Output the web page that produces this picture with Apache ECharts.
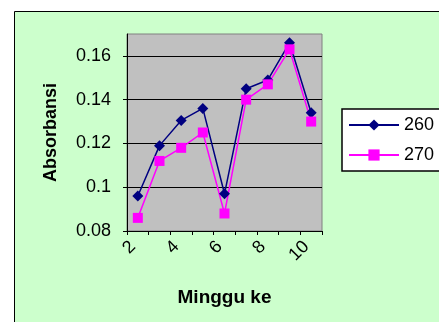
<!DOCTYPE html>
<html>
<head>
<meta charset="utf-8">
<script src="https://cdn.jsdelivr.net/npm/echarts@6/dist/echarts.min.js"></script>
<style>
html,body{margin:0;padding:0;background:#ffffff;}
#chart{width:439px;height:322px;}
</style>
</head>
<body>
<div id="chart"></div>
<script>
const categories = ['2','3','4','5','6','7','8','9','10'];
const series260 = [0.096, 0.119, 0.1305, 0.136, 0.097, 0.145, 0.149, 0.166, 0.134];
const series270 = [0.086, 0.112, 0.118, 0.125, 0.088, 0.140, 0.147, 0.163, 0.130];
const yTicks = [0.08, 0.10, 0.12, 0.14, 0.16];
const seriesNames = ['260', '270'];

const FONT = 'Liberation Sans, Arial, sans-serif';
const chart = echarts.init(document.getElementById('chart'), null, {renderer: 'canvas'});
chart.setOption({
  backgroundColor: '#ffffff',
  animation: false,
  graphic: [{
    type: 'rect', z: -10, silent: true,
    shape: {x: 14.5, y: 11.5, width: 440, height: 330},
    style: {fill: '#CCFFCC', stroke: '#000000', lineWidth: 1}
  }],
  grid: {
    left: 127, top: 34, width: 195, height: 197,
    show: true, backgroundColor: '#C0C0C0', borderColor: '#808080', borderWidth: 1
  },
  legend: {
    left: 342, top: 109,
    orient: 'vertical',
    data: seriesNames,
    backgroundColor: '#ffffff',
    borderColor: '#000000', borderWidth: 1.5,
    padding: [7, 40, 7, 6],
    itemWidth: 50, itemHeight: 14, itemGap: 12,
    textStyle: {fontFamily: FONT, fontSize: 18, lineHeight: 18, color: '#000000'}
  },
  xAxis: {
    type: 'category',
    data: categories,
    boundaryGap: true,
    name: 'Minggu ke',
    nameLocation: 'middle',
    nameGap: 57,
    nameTextStyle: {fontFamily: FONT, fontSize: 19, fontWeight: 'bold', color: '#000000'},
    axisLine: {lineStyle: {color: '#000000', width: 1}},
    axisTick: {show: true, interval: 0, length: 4, lineStyle: {color: '#000000'}},
    axisLabel: {interval: 1, rotate: 45, margin: 8, padding: [0, 7, 0, 0], fontFamily: FONT, fontSize: 18, color: '#000000'},
    splitLine: {show: false}
  },
  yAxis: {
    type: 'value',
    min: 0.08, max: 0.17, interval: 0.02,
    name: 'Absorbansi',
    nameLocation: 'middle',
    nameRotate: 90,
    nameGap: 67,
    nameTextStyle: {fontFamily: FONT, fontSize: 18, fontWeight: 'bold', color: '#000000'},
    axisLine: {show: true, lineStyle: {color: '#000000', width: 1}},
    axisTick: {show: true, length: 4, customValues: yTicks, lineStyle: {color: '#000000'}},
    axisLabel: {customValues: yTicks, margin: 16, fontFamily: FONT, fontSize: 18, color: '#000000'},
    splitLine: {show: true, lineStyle: {color: ['#000000','#000000','#000000','#000000','#000000','#808080'], width: 1}}
  },
  series: [
    {
      name: seriesNames[0], type: 'line', data: series260,
      symbol: 'diamond', symbolSize: 11,
      itemStyle: {color: '#000080'},
      lineStyle: {color: '#000080', width: 1.5}
    },
    {
      name: seriesNames[1], type: 'line', data: series270,
      symbol: 'rect', symbolSize: 10,
      itemStyle: {color: '#FF00FF'},
      lineStyle: {color: '#FF00FF', width: 1.5}
    }
  ]
});
</script>
</body>
</html>
